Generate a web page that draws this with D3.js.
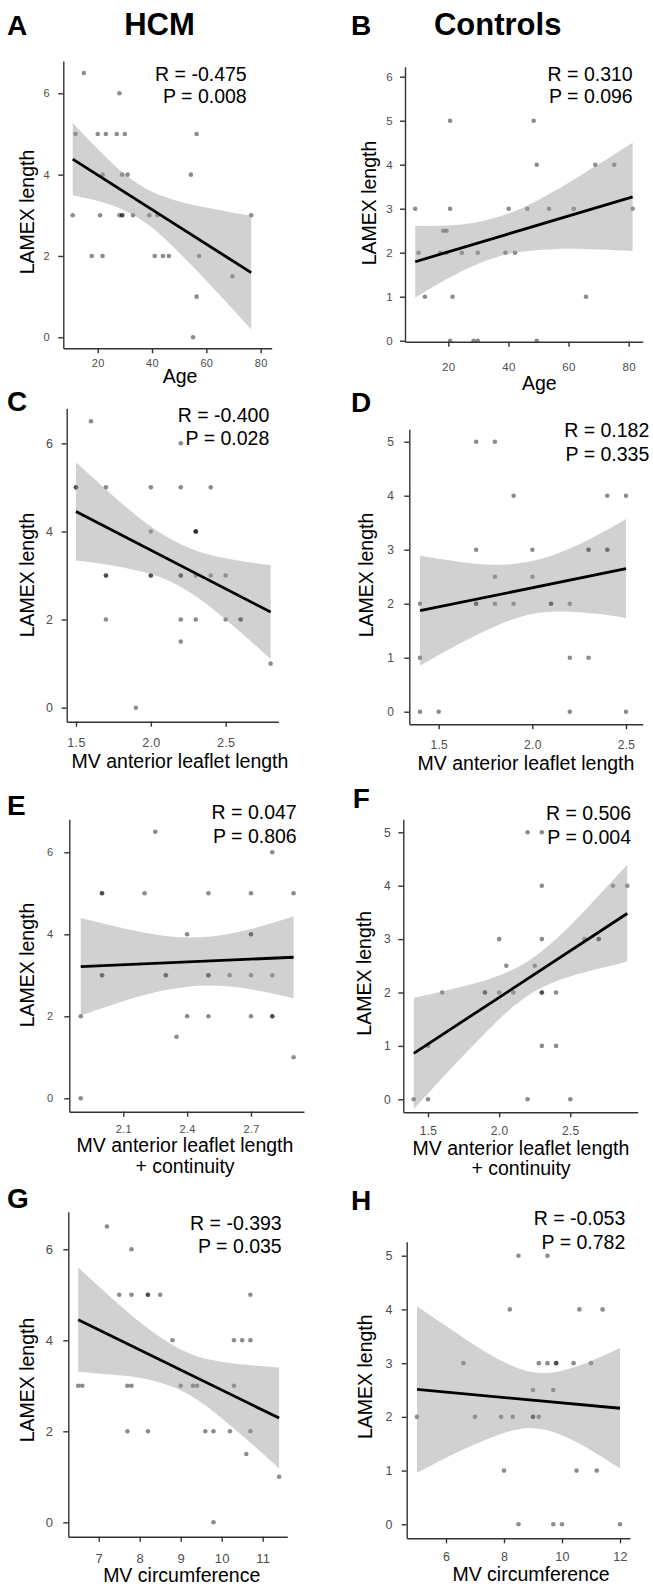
<!DOCTYPE html>
<html>
<head>
<meta charset="utf-8">
<script src="https://cdn.jsdelivr.net/npm/d3@7"></script>
<style>
  body { margin: 0; background: #fff; }
  svg { display: block; font-family: "Liberation Sans", Arial, Helvetica, sans-serif; }
</style>
</head>
<body>
<div id="chart"></div>
<script>
// ---- data ----
// A: HCM, age
var hcmAge  = [14.9, 10.8, 11.8, 20, 23, 27, 30, 28, 56.4, 21.8, 29, 31, 54.3, 20.9, 28, 29, 29, 33, 39, 42, 76.5, 17.8, 21.8, 41, 44, 46.2, 57.3, 69.6, 56.4, 55.1];
var hcmAgeY = [6.5, 3, 5, 5, 5, 5, 5, 6, 5, 4, 4, 4, 4, 3, 3, 3, 3, 3, 3, 3, 3, 2, 2, 2, 2, 2, 2, 1.5, 1, 0];
var hcmAgeFitX = [10.8, 76.5], hcmAgeFitY = [4.38, 1.59];
var hcmAgeBandX = [10.8, 20, 30, 40, 50, 60, 70, 76.5];
var hcmAgeBandHi = [5.27, 4.63, 4.01, 3.58, 3.34, 3.19, 3.06, 2.99];
var hcmAgeBandLo = [3.49, 3.35, 3.12, 2.70, 2.08, 1.39, 0.67, 0.19];

// B: controls, age
var ctrlAge  = [9.0, 20.6, 40.1, 46.3, 53.5, 61.7, 81.3, 20.6, 48.4, 49.4, 68.9, 75.2, 18.3, 19.4, 10.1, 17.3, 19.4, 24.5, 29.8, 39.0, 42.2, 12.2, 21.4, 65.8, 20.6, 28.4, 29.8, 49.4];
var ctrlAgeY = [3, 3, 3, 3, 3, 3, 3, 5, 5, 4, 4, 4, 2.5, 2.5, 2, 2, 2, 2, 2, 2, 2, 1, 1, 1, 0, 0, 0, 0];
var ctrlAgeFitX = [9, 81.3], ctrlAgeFitY = [1.795, 3.27];
var ctrlAgeBandX = [9, 20, 30, 40, 50, 60, 70, 81.3];
var ctrlAgeBandHi = [2.61, 2.62, 2.70, 2.89, 3.20, 3.59, 4.01, 4.50];
var ctrlAgeBandLo = [0.98, 1.42, 1.75, 1.97, 2.06, 2.09, 2.07, 2.04];

// C: HCM, MV anterior leaflet length
var hcmAml  = [1.6, 2.2, 1.5, 1.5, 1.7, 2.0, 2.2, 2.4, 2.0, 2.3, 2.3, 2.3, 1.7, 1.7, 2.0, 2.0, 2.2, 2.2, 2.3, 2.4, 2.5, 1.7, 2.2, 2.3, 2.5, 2.6, 2.6, 2.2, 2.8, 1.9];
var hcmAmlY = [6.5, 6, 5, 5, 5, 5, 5, 5, 4, 4, 4, 4, 3, 3, 3, 3, 3, 3, 3, 3, 3, 2, 2, 2, 2, 2, 2, 1.5, 1, 0];
var hcmAmlFitX = [1.5, 2.8], hcmAmlFitY = [4.45, 2.17];
var hcmAmlBandX = [1.5, 1.7, 1.9, 2.1, 2.3, 2.5, 2.7, 2.8];
var hcmAmlBandHi = [5.57, 4.95, 4.37, 3.89, 3.57, 3.39, 3.28, 3.24];
var hcmAmlBandLo = [3.34, 3.25, 3.12, 2.91, 2.53, 2.00, 1.41, 1.10];

// D: controls, MV anterior leaflet length
var ctrlAml  = [1.7, 1.8, 1.9, 2.4, 2.5, 1.7, 2.0, 2.3, 2.3, 2.4, 2.4, 1.8, 2.0, 1.4, 1.7, 1.7, 1.8, 1.9, 2.1, 2.1, 2.2, 1.4, 2.2, 2.3, 1.4, 1.5, 2.2, 2.5];
var ctrlAmlY = [5, 5, 4, 4, 4, 3, 3, 3, 3, 3, 3, 2.5, 2.5, 2, 2, 2, 2, 2, 2, 2, 2, 1, 1, 1, 0, 0, 0, 0];
var ctrlAmlFitX = [1.4, 2.5], ctrlAmlFitY = [1.87, 2.65];
var ctrlAmlBandX = [1.4, 1.6, 1.8, 2.0, 2.2, 2.4, 2.5];
var ctrlAmlBandHi = [2.89, 2.78, 2.72, 2.79, 3.02, 3.37, 3.57];
var ctrlAmlBandLo = [0.85, 1.24, 1.58, 1.81, 1.85, 1.79, 1.73];

// E: HCM, MV anterior leaflet length + continuity
var hcmAmlc  = [1.9, 1.9, 2.0, 2.0, 2.2, 2.5, 2.7, 2.8, 2.9, 2.25, 2.4, 2.7, 2.7, 2.0, 2.0, 2.3, 2.3, 2.5, 2.5, 2.6, 2.7, 2.8, 2.4, 2.5, 2.7, 2.8, 2.8, 2.35, 2.9];
var hcmAmlcY = [0, 2, 5, 5, 5, 5, 5, 6, 5, 6.5, 4, 4, 4, 3, 3, 3, 3, 3, 3, 3, 3, 3, 2, 2, 2, 2, 2, 1.5, 1];
var hcmAmlcFitX = [1.9, 2.9], hcmAmlcFitY = [3.21, 3.44];
var hcmAmlcBandX = [1.9, 2.1, 2.3, 2.5, 2.7, 2.9];
var hcmAmlcBandHi = [4.40, 4.15, 3.96, 3.94, 4.13, 4.44];
var hcmAmlcBandLo = [2.02, 2.37, 2.64, 2.75, 2.66, 2.44];

// F: controls, MV anterior leaflet length + continuity
var ctrlAmlc  = [1.4, 1.5, 1.5, 1.6, 1.9, 1.9, 2.0, 2.1, 2.0, 2.05, 2.2, 2.3, 2.3, 2.3, 2.25, 2.3, 2.3, 2.4, 2.3, 2.4, 2.2, 2.5, 2.6, 2.7, 2.7, 2.8, 2.9];
var ctrlAmlcY = [0, 0, 1, 2, 2, 2, 2, 2, 3, 2.5, 5, 5, 4, 3, 2.5, 2, 2, 2, 1, 1, 0, 0, 3, 3, 3, 4, 4];
var ctrlAmlcFitX = [1.4, 2.9], ctrlAmlcFitY = [0.86, 3.48];
var ctrlAmlcBandX = [1.4, 1.6, 1.8, 2.0, 2.2, 2.4, 2.6, 2.8, 2.9];
var ctrlAmlcBandHi = [1.90, 2.02, 2.15, 2.32, 2.58, 3.00, 3.53, 4.10, 4.39];
var ctrlAmlcBandLo = [-0.18, 0.40, 0.96, 1.50, 1.94, 2.21, 2.38, 2.51, 2.58];

// G: HCM, MV circumference
var hcmCirc  = [7.2, 7.8, 7.5, 7.8, 8.2, 8.2, 8.5, 10.7, 8.8, 10.3, 10.5, 10.7, 6.5, 6.6, 7.7, 7.8, 9.0, 9.3, 9.4, 10.3, 7.7, 8.2, 9.6, 9.8, 10.2, 10.7, 10.6, 11.4, 9.8];
var hcmCircY = [6.5, 6, 5, 5, 5, 5, 5, 5, 4, 4, 4, 4, 3, 3, 3, 3, 3, 3, 3, 3, 2, 2, 2, 2, 2, 2, 1.5, 1, 0];
var hcmCircFitX = [6.5, 11.4], hcmCircFitY = [4.45, 2.29];
var hcmCircBandX = [6.5, 7.3, 8.1, 9.0, 9.8, 10.6, 11.4];
var hcmCircBandHi = [5.60, 4.94, 4.33, 3.80, 3.56, 3.46, 3.40];
var hcmCircBandLo = [3.31, 3.25, 3.16, 2.90, 2.43, 1.83, 1.18];

// H: controls, MV circumference
var ctrlCirc  = [5.0, 6.6, 7.0, 7.9, 8.0, 8.2, 8.3, 8.5, 8.5, 9.0, 9.0, 9.0, 9.2, 9.2, 9.5, 9.5, 9.8, 9.8, 9.7, 9.7, 10.0, 10.4, 10.5, 10.6, 11.0, 11.2, 11.4, 12.0];
var ctrlCircY = [2, 3, 2, 2, 1, 4, 2, 5, 0, 2.5, 2, 2, 2, 3, 3, 5, 3, 3, 2.5, 0, 0, 3, 1, 4, 3, 1, 4, 0];
var ctrlCircFitX = [5, 12], ctrlCircFitY = [2.51, 2.16];
var ctrlCircBandX = [5, 6, 7, 8, 9, 10, 11, 12];
var ctrlCircBandHi = [4.06, 3.69, 3.33, 3.02, 2.83, 2.86, 3.04, 3.28];
var ctrlCircBandLo = [0.96, 1.24, 1.49, 1.70, 1.79, 1.66, 1.38, 1.04];

var statR = ["R = -0.475", "R = 0.310", "R = -0.400", "R = 0.182", "R = 0.047", "R = 0.506", "R = -0.393", "R = -0.053"];
var statP = ["P = 0.008", "P = 0.096", "P = 0.028", "P = 0.335", "P = 0.806", "P = 0.004", "P = 0.035", "P = 0.782"];
var tags = ["A", "B", "C", "D", "E", "F", "G", "H"];
var xTitles = [["Age"], ["Age"], ["MV anterior leaflet length"], ["MV anterior leaflet length"],
  ["MV anterior leaflet length", "+ continuity"], ["MV anterior leaflet length", "+ continuity"],
  ["MV circumference"], ["MV circumference"]];
var xTickVals = [[20, 40, 60, 80], [20, 40, 60, 80], [1.5, 2.0, 2.5], [1.5, 2.0, 2.5],
  [2.1, 2.4, 2.7], [1.5, 2.0, 2.5], [7, 8, 9, 10, 11], [6, 8, 10, 12]];
var yTickVals = [[0, 2, 4, 6], [0, 1, 2, 3, 4, 5, 6], [0, 2, 4, 6], [0, 1, 2, 3, 4, 5],
  [0, 2, 4, 6], [0, 1, 2, 3, 4, 5], [0, 2, 4, 6], [0, 1, 2, 3, 4, 5]];

var series = [
  [hcmAge, hcmAgeY, hcmAgeFitX, hcmAgeFitY, hcmAgeBandX, hcmAgeBandHi, hcmAgeBandLo],
  [ctrlAge, ctrlAgeY, ctrlAgeFitX, ctrlAgeFitY, ctrlAgeBandX, ctrlAgeBandHi, ctrlAgeBandLo],
  [hcmAml, hcmAmlY, hcmAmlFitX, hcmAmlFitY, hcmAmlBandX, hcmAmlBandHi, hcmAmlBandLo],
  [ctrlAml, ctrlAmlY, ctrlAmlFitX, ctrlAmlFitY, ctrlAmlBandX, ctrlAmlBandHi, ctrlAmlBandLo],
  [hcmAmlc, hcmAmlcY, hcmAmlcFitX, hcmAmlcFitY, hcmAmlcBandX, hcmAmlcBandHi, hcmAmlcBandLo],
  [ctrlAmlc, ctrlAmlcY, ctrlAmlcFitX, ctrlAmlcFitY, ctrlAmlcBandX, ctrlAmlcBandHi, ctrlAmlcBandLo],
  [hcmCirc, hcmCircY, hcmCircFitX, hcmCircFitY, hcmCircBandX, hcmCircBandHi, hcmCircBandLo],
  [ctrlCirc, ctrlCircY, ctrlCircFitX, ctrlCircFitY, ctrlCircBandX, ctrlCircBandHi, ctrlCircBandLo]
];

// ---- layout (pixel geometry of each panel) ----
// left/right/top/bottom: axis lines; xCal/xPx, yCal/yPx: two ticks and where they sit
var layout = [
  {left: 63.3, right: 271.7, top: 61, bottom: 348.3, xCal: [20, 80], xPx: [97.7, 260.7], yCal: [0, 6], yPx: [337.3, 93.3],
   font: 11, xLab: 366.7, yLab: 50, xt: [180, 383], yt: [26.7, 212], st: [246.7, 80.7, 103.3], tag: [7, 35]},
  {left: 405, right: 642.7, top: 66.7, bottom: 341.7, xCal: [20, 80], xPx: [448.3, 628.7], yCal: [0, 6], yPx: [340.7, 76.7],
   font: 11.5, xLab: 371.5, yLab: 393, xt: [539.3, 390], yt: [369, 203], st: [632.7, 81, 102.7], tag: [351, 35]},
  {left: 66.7, right: 278.3, top: 408.3, bottom: 721.7, xCal: [1.5, 2.5], xPx: [76, 225.7], yCal: [0, 6], yPx: [707.7, 443.3],
   font: 12.5, xLab: 746.7, yLab: 53.3, xt: [180, 768.3], yt: [26.7, 575], st: [269.3, 421.7, 445], tag: [7, 411]},
  {left: 409.3, right: 642.7, top: 429.3, bottom: 724.3, xCal: [1.5, 2.5], xPx: [438.7, 626], yCal: [0, 5], yPx: [711.7, 441.7],
   font: 12, xLab: 749.3, yLab: 394.3, xt: [526, 770], yt: [366, 575], st: [649.3, 436.7, 461], tag: [351, 411.7]},
  {left: 69.3, right: 304, top: 819.3, bottom: 1111.7, xCal: [2.1, 2.7], xPx: [123.3, 251], yCal: [0, 6], yPx: [1098.3, 852.3],
   font: 11, xLab: 1133.3, yLab: 53.3, xt: [185, 1151.7, 1173.3], yt: [26.7, 965], st: [296.7, 819.3, 843.3], tag: [7, 815]},
  {left: 403.3, right: 637.7, top: 819.3, bottom: 1112.3, xCal: [1.5, 2.5], xPx: [428, 570.3], yCal: [0, 5], yPx: [1099.3, 832.3],
   font: 12, xLab: 1135, yLab: 391, xt: [521, 1155, 1175], yt: [364.3, 973.3], st: [631, 820, 844], tag: [352.7, 808.3]},
  {left: 68.3, right: 287.3, top: 1211.7, bottom: 1536.7, xCal: [7, 11], xPx: [98.7, 262.7], yCal: [0, 6], yPx: [1522.3, 1249.3],
   font: 13, xLab: 1563, yLab: 53.3, xt: [181.7, 1582], yt: [26.7, 1380], st: [281.7, 1230, 1252.7], tag: [7, 1208.3]},
  {left: 406.7, right: 630, top: 1241.7, bottom: 1538.3, xCal: [6, 12], xPx: [446, 620], yCal: [0, 5], yPx: [1524.3, 1255.7],
   font: 12.5, xLab: 1561.3, yLab: 392.7, xt: [531, 1581], yt: [365.3, 1376.7], st: [625.3, 1225, 1249.3], tag: [351, 1210]}
];

var W = 653, H = 1586, TITLE = 19.5, TICK = 5;

var svg = d3.select("#chart").append("svg")
  .attr("width", W).attr("height", H);
svg.append("rect").attr("width", W).attr("height", H).attr("fill", "#fff");

// column headers
svg.append("text").attr("x", 159.5).attr("y", 35).attr("text-anchor", "middle")
  .attr("font-size", 31).attr("font-weight", "bold").text("HCM");
svg.append("text").attr("x", 497.7).attr("y", 35).attr("text-anchor", "middle")
  .attr("font-size", 31).attr("font-weight", "bold").text("Controls");

series.forEach(function (s, i) {
  drawPanel(s, layout[i], i);
});

function drawPanel(s, L, i) {
  var g = svg.append("g");

  var x = d3.scaleLinear().domain(L.xCal).range(L.xPx);
  x.domain([x.invert(L.left), x.invert(L.right)]).range([L.left, L.right]);
  var y = d3.scaleLinear().domain(L.yCal).range(L.yPx);
  y.domain([y.invert(L.bottom), y.invert(L.top)]).range([L.bottom, L.top]);

  // points
  g.append("g").selectAll("circle")
    .data(d3.zip(s[0], s[1]))
    .join("circle")
    .attr("cx", function (d) { return x(d[0]); })
    .attr("cy", function (d) { return y(d[1]); })
    .attr("r", 2.3)
    .attr("fill", "#000")
    .attr("fill-opacity", 0.45);

  // confidence band
  var area = d3.area()
    .x(function (d) { return x(d[0]); })
    .y0(function (d) { return y(d[2]); })
    .y1(function (d) { return y(d[1]); })
    .curve(d3.curveNatural);
  g.append("path")
    .datum(d3.zip(s[4], s[5], s[6]))
    .attr("d", area)
    .attr("fill", "#999")
    .attr("fill-opacity", 0.45);

  // regression line
  var line = d3.line()
    .x(function (d) { return x(d[0]); })
    .y(function (d) { return y(d[1]); });
  g.append("path")
    .datum(d3.zip(s[2], s[3]))
    .attr("d", line)
    .attr("fill", "none")
    .attr("stroke", "#000")
    .attr("stroke-width", 2.8);

  // axes
  var fmt = (i >= 2 && i <= 5) ? d3.format(".1f") : d3.format("d");
  var xAxis = d3.axisBottom(x).tickValues(xTickVals[i]).tickFormat(fmt)
    .tickSize(TICK).tickSizeOuter(0)
    .tickPadding(L.xLab - L.bottom - TICK - 0.71 * L.font);
  var yAxis = d3.axisLeft(y).tickValues(yTickVals[i]).tickFormat(d3.format("d"))
    .tickSize(TICK).tickSizeOuter(0)
    .tickPadding(L.left - L.yLab - TICK);

  [g.append("g").attr("transform", "translate(0," + L.bottom + ")").call(xAxis),
   g.append("g").attr("transform", "translate(" + L.left + ",0)").call(yAxis)]
    .forEach(function (ax) {
      ax.attr("font-family", null).attr("font-size", L.font);
      ax.select(".domain").attr("stroke", "#333").attr("stroke-width", 1.4);
      ax.selectAll(".tick line").attr("stroke", "#333").attr("stroke-width", 1.4);
      ax.selectAll(".tick text").attr("fill", "#4d4d4d").attr("letter-spacing", 0.3);
    });

  // axis titles
  xTitles[i].forEach(function (t, k) {
    g.append("text")
      .attr("x", L.xt[0]).attr("y", L.xt[1 + k])
      .attr("text-anchor", "middle")
      .attr("font-size", TITLE)
      .text(t);
  });
  g.append("text")
    .attr("transform", "translate(" + (L.yt[0] + 0.358 * TITLE) + "," + L.yt[1] + ") rotate(-90)")
    .attr("text-anchor", "middle")
    .attr("font-size", TITLE)
    .text("LAMEX length");

  // correlation stats
  g.append("text").attr("x", L.st[0]).attr("y", L.st[1])
    .attr("text-anchor", "end").attr("font-size", TITLE).text(statR[i]);
  g.append("text").attr("x", L.st[0]).attr("y", L.st[2])
    .attr("text-anchor", "end").attr("font-size", TITLE).text(statP[i]);

  // panel letter
  g.append("text").attr("x", L.tag[0]).attr("y", L.tag[1])
    .attr("font-size", 28).attr("font-weight", "bold").text(tags[i]);
}
</script>
</body>
</html>
